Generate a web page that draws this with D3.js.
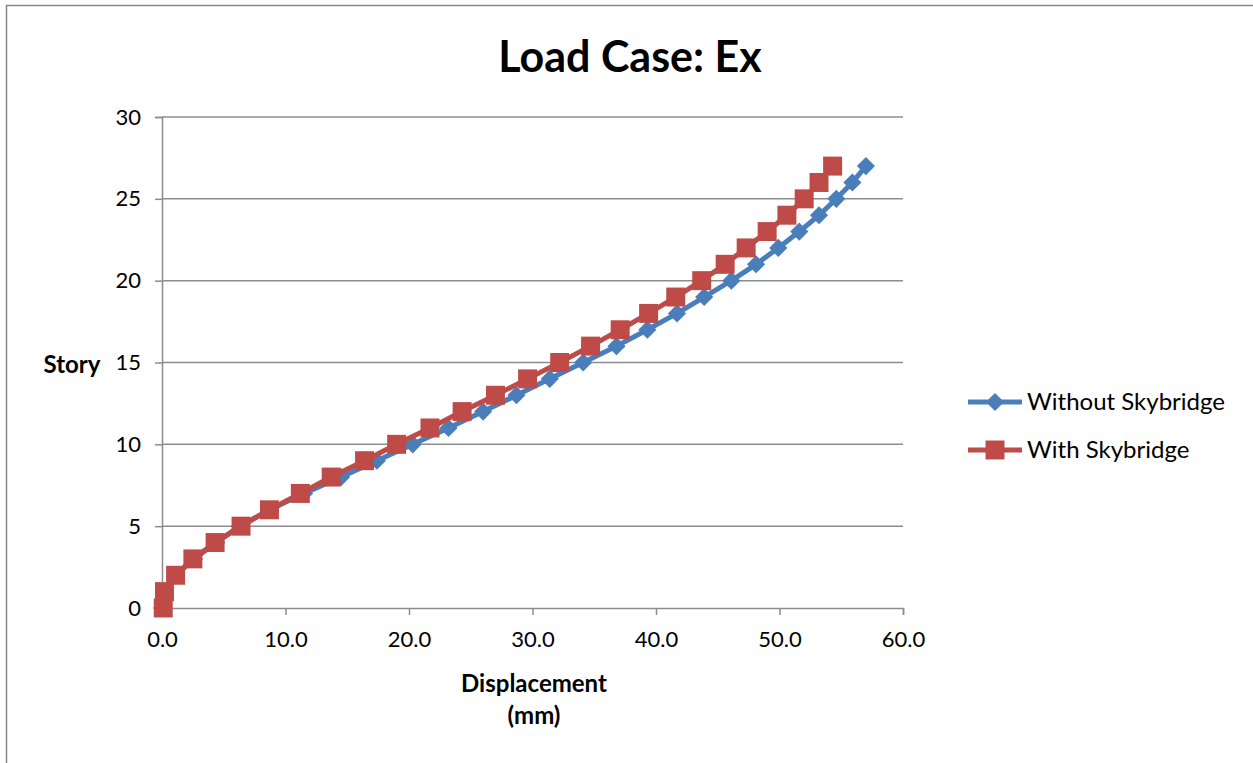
<!DOCTYPE html>
<html>
<head>
<meta charset="utf-8">
<script src="https://cdn.jsdelivr.net/npm/d3@7"></script>
<style>
  html, body { margin: 0; padding: 0; background: #fff; }
  svg { display: block; font-family: Lato, "Open Sans", sans-serif; }
</style>
</head>
<body>
<svg id="chart" width="1253" height="763"></svg>
<script>
// Story levels (0 = base, 27 = roof)
const stories = d3.range(0, 28);

// Lateral displacement (mm) per story, load case Ex
const withoutSkybridge = [0.0, 0.2, 1.1, 2.6, 4.4, 6.3, 8.7, 11.5, 14.5, 17.4, 20.3, 23.2, 26.0, 28.7,
  31.4, 34.1, 36.8, 39.3, 41.7, 43.9, 46.1, 48.1, 49.9, 51.6, 53.2, 54.6, 55.9, 57.0];
const withSkybridge = [0.1, 0.2, 1.1, 2.5, 4.3, 6.4, 8.7, 11.2, 13.7, 16.4, 19.0, 21.7, 24.3, 27.0,
  29.6, 32.2, 34.7, 37.1, 39.4, 41.6, 43.7, 45.6, 47.3, 49.0, 50.6, 52.0, 53.2, 54.3];

const xTicks = [0, 10, 20, 30, 40, 50, 60];
const yTicks = [0, 5, 10, 15, 20, 25, 30];

const seriesNames = ["Without Skybridge", "With Skybridge"];
const seriesColors = ["#4A7EBB", "#BE4B48"];

const svg = d3.select("#chart");

// outer chart frame
svg.append("rect")
  .attr("x", 6.5).attr("y", 5.5)
  .attr("width", 1260).attr("height", 780)
  .attr("fill", "#fff").attr("stroke", "#888").attr("stroke-width", 1.5);

const plot = { left: 162, right: 903, top: 117, bottom: 608 };

const x = d3.scaleLinear().domain([0, 60]).range([plot.left, plot.right]);
const y = d3.scaleLinear().domain([0, 30]).range([plot.bottom, plot.top]);

// horizontal gridlines
svg.append("g")
  .selectAll("line")
  .data(yTicks.filter(d => d > 0))
  .join("line")
  .attr("x1", plot.left).attr("x2", plot.right)
  .attr("y1", d => y(d)).attr("y2", d => y(d))
  .attr("stroke", "#8c8c8c").attr("stroke-width", 1.5);

// y axis
const yAxis = svg.append("g")
  .attr("transform", `translate(${plot.left},0)`)
  .call(d3.axisLeft(y).tickValues(yTicks).tickSize(7).tickPadding(14).tickFormat(d3.format("d")));
yAxis.select(".domain").attr("stroke", "#8c8c8c").attr("stroke-width", 1.5);
yAxis.selectAll(".tick line").attr("stroke", "#8c8c8c").attr("stroke-width", 1.5);
yAxis.selectAll("text").attr("font-size", 22).attr("fill", "#000")
  .attr("font-family", "Lato, 'Open Sans', sans-serif");

// x axis
const xAxis = svg.append("g")
  .attr("transform", `translate(0,${plot.bottom})`)
  .call(d3.axisBottom(x).tickValues(xTicks).tickSize(7).tickPadding(16).tickFormat(d3.format(".1f")));
xAxis.select(".domain").attr("stroke", "#8c8c8c").attr("stroke-width", 1.5);
xAxis.selectAll(".tick line").attr("stroke", "#8c8c8c").attr("stroke-width", 1.5);
xAxis.selectAll("text").attr("font-size", 22).attr("fill", "#000")
  .attr("font-family", "Lato, 'Open Sans', sans-serif");

// series
const series = [withoutSkybridge, withSkybridge].map((vals, i) => ({
  name: seriesNames[i],
  color: seriesColors[i],
  points: vals.map((v, j) => ({ x: v, y: stories[j] }))
}));

const line = d3.line().x(d => x(d.x)).y(d => y(d.y));

const diamond = d3.symbol().type(d3.symbolDiamond2).size(210);
const square = d3.symbol().type(d3.symbolSquare).size(360);

series.forEach((s, i) => {
  const g = svg.append("g");
  g.append("path")
    .datum(s.points)
    .attr("d", line)
    .attr("fill", "none")
    .attr("stroke", s.color)
    .attr("stroke-width", 5)
    .attr("stroke-linejoin", "round");
  g.selectAll("path.mk")
    .data(s.points)
    .join("path")
    .attr("class", "mk")
    .attr("transform", d => `translate(${x(d.x)},${y(d.y)})`)
    .attr("d", i === 0 ? diamond() : square())
    .attr("fill", s.color);
});

// title
svg.append("text")
  .attr("x", 630).attr("y", 72)
  .attr("text-anchor", "middle")
  .attr("font-size", 43).attr("font-weight", "bold")
  .text("Load Case: Ex");

// axis titles
svg.append("text")
  .attr("x", 72).attr("y", 373)
  .attr("text-anchor", "middle")
  .attr("font-size", 24).attr("font-weight", "bold")
  .text("Story");

svg.append("text")
  .attr("x", 534).attr("y", 692)
  .attr("text-anchor", "middle")
  .attr("font-size", 24).attr("font-weight", "bold")
  .text("Displacement");
svg.append("text")
  .attr("x", 534).attr("y", 724)
  .attr("text-anchor", "middle")
  .attr("font-size", 24).attr("font-weight", "bold")
  .text("(mm)");

// legend
const legend = svg.append("g");
series.forEach((s, i) => {
  const ly = 402 + i * 48;
  legend.append("line")
    .attr("x1", 968).attr("x2", 1022)
    .attr("y1", ly).attr("y2", ly)
    .attr("stroke", s.color).attr("stroke-width", 5);
  legend.append("path")
    .attr("transform", `translate(995,${ly})`)
    .attr("d", i === 0 ? diamond() : square())
    .attr("fill", s.color);
  legend.append("text")
    .attr("x", 1027).attr("y", ly + 8)
    .attr("font-size", 24)
    .text(s.name);
});
</script>
</body>
</html>
